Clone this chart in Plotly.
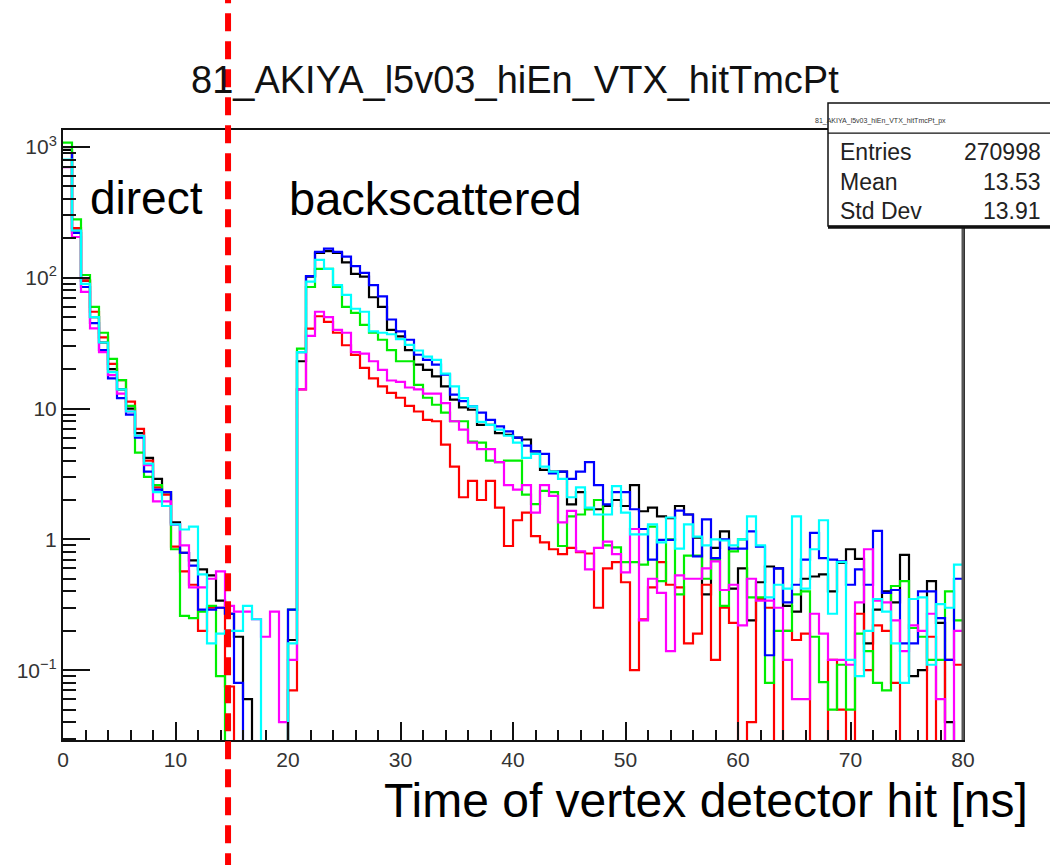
import numpy as np
import plotly.graph_objects as go

# 100 bins of 0.8 ns from 0 to 80 ns
BIN_WIDTH = 0.8
N_BINS = 100
edges = np.arange(N_BINS + 1) * BIN_WIDTH

black = [950, 230, 95, 50, 32, 20, 14, 10, 6.5, 4.2, 2.9, 2.3, 1.35, 0.79, 0.69, 0.59, 0.53, 0.34, 0.27, 0.18, 0.06, 0, 0, 0, 0, 0.17,
         23, 102, 155, 160, 155, 131, 107, 102, 71, 60, 40, 35.6, 28, 21.7, 19.8, 17.6, 14.8, 11.7, 10.2, 9.8, 7.5, 7.5, 6.5, 6.3,
         6.0, 5.8, 4.7, 3.4, 3.3, 3.3, 1.85, 2.3, 1.7, 1.7, 1.8, 2.0, 1.8, 2.6,
         1.64, 1.75, 1.5, 1.45, 1.8, 1.55, 1.03, 0.38, 0.86, 1.15, 0.42, 0.6, 0.24, 0.47, 0.62, 0.6, 0.31, 0.28, 0.5, 0.52,
         0.54, 0.4, 0.66, 0.84, 0.71, 0.16, 0.29, 0.4, 0.33, 0.76, 0.09, 0.1, 0.48, 0.23, 0.04, 0]

red = [900, 240, 95, 55, 35, 22, 16.5, 11.3, 7, 4.0, 2.5, 2.2, 0.88, 0.57, 0.45, 0.2, 0.3, 0.3, 0.075, 0, 0, 0, 0, 0, 0, 0.07,
       14, 40.8, 50.8, 46, 38, 30.5, 25.7, 20.5, 17, 14.8, 13.2, 12.1, 10.5, 9.5, 8.2, 8.0, 5.3, 3.6, 2.1, 2.8, 2.0, 2.8, 1.75, 0.89,
       1.4, 1.6, 1.06, 0.95, 0.84, 0.77, 0.86, 0.8, 0.78, 0.3, 0.6, 0.67, 0.47, 0.1,
       0.245, 0.43, 0.67, 0.45, 0.43, 0.16, 0.19, 0.45, 0.12, 0.3, 0.23, 0, 0.04, 0.35, 0.3, 0, 0.2, 0.17, 0.19, 0,
       0, 0.12, 0.05, 0, 0.27, 0.1, 0.22, 0.2, 0.08, 0, 0, 0, 0.18, 0, 0.12, 0.11]

green = [1080, 280, 105, 60, 38, 24, 16.5, 10.5, 4.6, 3.0, 2.6, 2.3, 0.84, 0.26, 0.25, 0.28, 0.31, 0.09, 0, 0, 0, 0, 0, 0, 0, 0.29,
         28.7, 85, 117, 117, 85, 60, 54, 43.6, 38, 33.6, 28, 23, 23, 15.2, 12.1, 10.7, 9.3, 8, 8, 5.6, 5.5, 4.0, 3.9, 4.0,
         4.0, 2.2, 1.86, 2.35, 2.3, 0.89, 1.5, 1.55, 1.7, 2.0, 0.9, 0.87, 0.67, 0.67,
         0.64, 1.25, 0.48, 1.0, 0.38, 0.75, 0.75, 0.5, 0.7, 0.31, 0.81, 1.0, 0.36, 0.36, 0.08, 0.2, 0.2, 0.38, 0.4, 0.18,
         0.081, 0.05, 0.11, 0.05, 0.19, 0.14, 0.08, 0.07, 0.44, 0.48, 0.21, 0.18, 0.12, 0.12, 0.4, 0.24]

blue = [900, 220, 85, 45, 28, 17, 12, 9, 6, 3.3, 2.4, 2.3, 1.3, 0.79, 0.63, 0.29, 0.29, 0.3, 0.27, 0.08, 0, 0, 0, 0, 0, 0.29,
        27, 103, 158, 167, 158, 145, 123, 109, 88, 72, 48, 39, 33.6, 25.8, 23.6, 21.7, 18.2, 12.8, 11.4, 10.4, 9.3, 8.2, 7.3, 6.7,
        6.0, 5.2, 4.7, 4.5, 3.2, 3.3, 2.9, 3.3, 3.9, 2.6, 1.85, 2.3, 2.3, 1.7,
        1.2, 0.7, 0.99, 0.99, 1.66, 1.55, 0.74, 1.42, 0.72, 1.0, 0.85, 0.85, 1.15, 0.88, 0.13, 0.6, 0.33, 0.45, 0.7, 1.12,
        0.72, 0.7, 0.68, 0.45, 0.59, 0.45, 1.16, 0.39, 0.41, 0.16, 0.16, 0.4, 0.4, 0.25, 0.12, 0.5]

magenta = [700, 205, 78, 41, 27, 18, 13, 9.5, 6.2, 3.7, 1.95, 1.95, 1.3, 0.9, 0.43, 0.43, 0.5, 0.57, 0.31, 0.28, 0.28, 0.245, 0.18, 0.28, 0.04, 0.12,
           14, 36, 55, 50, 40, 38, 27, 26.3, 23, 19.8, 16.4, 16, 14.5, 14, 13, 13, 11, 8, 6.9, 5.5, 4.9, 4.9, 3.9, 2.6,
           2.4, 2.6, 1.6, 2.6, 2.15, 1.35, 1.65, 0.81, 0.59, 0.86, 0.96, 0.77, 0.56, 1.2,
           0.24, 0.5, 0.39, 0.14, 0.53, 0.5, 0.5, 0.6, 0.68, 0.41, 0.45, 0.22, 0.5, 0.34, 0.34, 0.3, 0.12, 0.06, 0.06, 0.27,
           0.19, 0.12, 0.12, 0.11, 0.33, 0.84, 0.34, 0.33, 0.24, 0.14, 0.22, 0.2, 0.27, 0.06, 0, 0.2]

cyan = [800, 230, 90, 50, 32, 19, 14, 9.5, 6.2, 3.8, 2.3, 1.8, 1.3, 1.19, 1.25, 0.54, 0.16, 0.19, 0.2, 0.2, 0.31, 0.245, 0, 0, 0, 0.16,
        27, 93.5, 137, 117, 88, 74, 58, 55, 39, 38, 37, 34, 30.7, 27.8, 25, 23.6, 18.5, 14.8, 12, 10.4, 7.9, 7.5, 6.9, 6.2,
        5.5, 4.2, 4.5, 3.6, 3.3, 2.9, 2.1, 2.5, 1.75, 1.55, 1.55, 2.55, 1.6, 1.09,
        1.09, 1.3, 0.95, 1.47, 0.85, 1.3, 1.05, 0.9, 1.0, 0.98, 0.9, 1.0, 1.5, 0.9, 0.36, 0.45, 0.42, 1.5, 0.42, 0.84,
        1.4, 0.27, 0.67, 0.12, 0.09, 0.2, 0.35, 0.28, 0.16, 0.08, 0.35, 0.36, 0.11, 0.32, 0.3, 0.64]

series = [("black", "#000000", black), ("red", "#ff0000", red), ("green", "#00ee00", green),
          ("blue", "#0000ff", blue), ("magenta", "#ff00ff", magenta), ("cyan", "#00ffff", cyan)]

TITLE = "81_AKIYA_l5v03_hiEn_VTX_hitTmcPt"
STATS_NAME = "81_AKIYA_l5v03_hiEn_VTX_hitTmcPt_px"
stats_rows = [("Entries", "270998"), ("Mean", "13.53"), ("Std Dev", "13.91")]
CUT_NS = 14.67

y_tickvals = [0.1, 1, 10, 100, 1000]
y_ticktext = ["10<sup>\u22121</sup>", "1", "10", "10<sup>2</sup>", "10<sup>3</sup>"]
x_tickvals = list(range(0, 81, 10))

# empty bins sit far below the visible range so the step drops off the frame
FLOOR = 1e-3

fig = go.Figure()
for name, color, vals in series:
    v = np.asarray(vals, dtype=float)
    v = np.where(v > 0, v, FLOOR)
    xs = np.append(edges[:-1], edges[-1])
    ys = np.append(v, v[-1])
    fig.add_trace(go.Scatter(x=xs, y=ys, mode="lines", name=name,
                             line=dict(color=color, width=2.2, shape="hv"),
                             showlegend=False, hoverinfo="skip"))

FONT = "Liberation Sans, Arial, Helvetica, sans-serif"

fig.update_xaxes(range=[0, 80], tickmode="array", tickvals=x_tickvals,
                 ticks="inside", ticklen=18, tickwidth=2, tickcolor="#111",
                 minor=dict(dtick=2, tick0=0, ticks="inside", ticklen=10, tickwidth=2, tickcolor="#111", showgrid=False),
                 showline=True, linewidth=2, linecolor="#111", mirror=True,
                 showgrid=False, zeroline=False,
                 tickfont=dict(family=FONT, size=21, color="#333"))
fig.update_yaxes(type="log", range=[-1.534, 3.13], tickmode="array",
                 tickvals=y_tickvals, ticktext=y_ticktext,
                 ticks="inside", ticklen=27, tickwidth=2, tickcolor="#111",
                 minor=dict(dtick="D1", ticks="inside", ticklen=13, tickwidth=2, tickcolor="#111", showgrid=False),
                 showline=True, linewidth=2, linecolor="#111", mirror=True,
                 showgrid=False, zeroline=False,
                 tickfont=dict(family=FONT, size=21, color="#333"))

# darker right-hand frame edge
fig.add_shape(type="line", xref="paper", yref="paper", x0=1, x1=1, y0=0, y1=1,
              line=dict(color="#555", width=3), layer="above")

# separation cut between direct and backscattered hits
fig.add_shape(type="line", xref="x", yref="paper", x0=CUT_NS, x1=CUT_NS, y0=-0.215, y1=1.22,
              line=dict(color="#ff0000", width=6, dash="18px,10px"), layer="above")

# statistics box
fig.add_shape(type="rect", xref="paper", yref="paper", x0=0.85, x1=1.12, y0=0.8426, y1=1.0443,
              line=dict(color="#111", width=1.5), fillcolor="white", layer="above")
fig.add_shape(type="line", xref="paper", yref="paper", x0=0.85, x1=1.12, y0=0.8405, y1=0.8405,
              line=dict(color="#111", width=3), layer="above")
fig.add_shape(type="line", xref="paper", yref="paper", x0=0.85, x1=1.12, y0=0.995, y1=0.995,
              line=dict(color="#111", width=1.2), layer="above")

annotations = [
    dict(text=TITLE, x=0.502, y=1.082, xref="paper", yref="paper", showarrow=False,
         xanchor="center", yanchor="middle", font=dict(family=FONT, size=38, color="#111")),
    dict(text=STATS_NAME, x=0.908, y=1.015, xref="paper", yref="paper", showarrow=False,
         xanchor="center", yanchor="middle", font=dict(family=FONT, size=7, color="#333")),
    dict(text="direct", x=0.0278, y=0.8885, xref="paper", yref="paper", showarrow=False,
         xanchor="left", yanchor="middle", font=dict(family=FONT, size=46, color="#000")),
    dict(text="backscattered", x=0.2489, y=0.8885, xref="paper", yref="paper", showarrow=False,
         xanchor="left", yanchor="middle", font=dict(family=FONT, size=47, color="#000")),
    dict(text="Time of vertex detector hit [ns]", x=1.0744, y=-0.099, xref="paper", yref="paper",
         showarrow=False, xanchor="right", yanchor="middle", font=dict(family=FONT, size=48, color="#000")),
]
row_y = [0.964, 0.9148, 0.867]
for (label, value), yy in zip(stats_rows, row_y):
    annotations.append(dict(text=label, x=0.861, y=yy, xref="paper", yref="paper", showarrow=False,
                            xanchor="left", yanchor="middle", font=dict(family=FONT, size=23, color="#222")))
    annotations.append(dict(text=value, x=1.0889, y=yy, xref="paper", yref="paper", showarrow=False,
                            xanchor="right", yanchor="middle", font=dict(family=FONT, size=23, color="#222")))

fig.update_layout(width=1050, height=865, margin=dict(l=63, r=87, t=130, b=125),
                  paper_bgcolor="white", plot_bgcolor="white", annotations=annotations,
                  font=dict(family=FONT))

fig.write_html("out.html")
